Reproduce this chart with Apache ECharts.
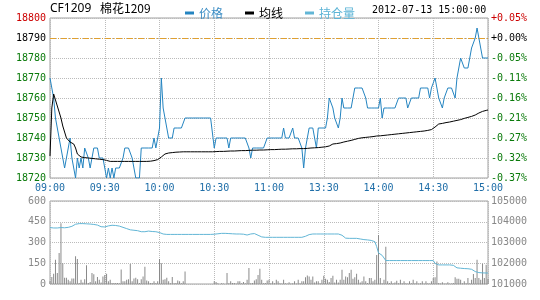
<!DOCTYPE html>
<html><head><meta charset="utf-8">
<script src="https://cdn.jsdelivr.net/npm/echarts@6/dist/echarts.min.js"></script>
<style>html,body{margin:0;padding:0;background:#fff}#c{width:540px;height:300px}</style>
</head><body><div id="c"></div>
<script>
const prevClose = 18790;
const symbolText = 'CF1209';
const nameText = '棉花1209';
const dateText = '2012-07-13 15:00:00';
const timeTicks = ['09:00','09:30','10:00','10:30','11:00','13:30','14:00','14:30','15:00'];
const pctLabels = ['-0.37%','-0.32%','-0.27%','-0.21%','-0.16%','-0.11%','-0.05%','+0.00%','+0.05%'];

const price = [
18770,18765,18760,18750,18745,18740,18735,18730,18725,18730,
18735,18740,18730,18725,18720,18730,18725,18730,18725,18735,
18735,18730,18725,18730,18735,18735,18735,18730,18730,18730,
18725,18720,18725,18720,18725,18720,18725,18725,18725,18725,
18730,18735,18735,18735,18735,18730,18725,18720,18720,18720,
18735,18735,18735,18735,18735,18735,18735,18740,18735,18740,
18745,18770,18755,18750,18745,18740,18740,18740,18745,18745,
18745,18745,18745,18745,18750,18750,18750,18750,18750,18750,
18750,18750,18750,18750,18750,18750,18750,18750,18750,18750,
18735,18740,18740,18740,18740,18740,18740,18740,18735,18740,
18740,18740,18740,18740,18740,18740,18740,18740,18740,18735,
18730,18735,18735,18735,18735,18735,18735,18735,18735,18740,
18740,18740,18740,18740,18740,18740,18740,18740,18745,18740,
18740,18740,18740,18745,18740,18740,18740,18740,18735,18725,
18735,18740,18745,18745,18745,18745,18735,18745,18745,18745,
18745,18745,18750,18760,18760,18755,18750,18750,18745,18750,
18760,18755,18755,18755,18755,18755,18755,18765,18765,18765,
18765,18765,18765,18760,18755,18755,18755,18755,18755,18755,
18755,18760,18750,18755,18755,18755,18755,18755,18755,18755,
18755,18760,18760,18760,18760,18760,18755,18755,18760,18760,
18760,18760,18760,18765,18765,18765,18765,18765,18760,18765,
18765,18770,18765,18760,18760,18755,18760,18760,18765,18765,
18765,18765,18760,18770,18775,18780,18780,18775,18775,18775,
18780,18785,18785,18790,18795,18790,18785,18780,18780,18780,
18780];

const avgPrice = [
18731,18755,18762,18759,18756,18753,18750,18746,18743,18740,
18739,18738,18738,18737,18735,18732,18731,18730.5,18730.3,18730.2,
18730.1,18730,18730,18729.8,18729.7,18729.6,18729.5,18729.4,18729.3,18729.2,
18729,18728.8,18728.5,18728.3,18728.3,18728.3,18728.3,18728.3,18728.3,18728.3,
18728.3,18728.3,18728.3,18728.3,18728.3,18728.3,18728.3,18728.3,18728.3,18728.3,
18728.3,18728.3,18728.3,18728.3,18728.3,18728.4,18728.5,18728.7,18729,18729.2,
18729.5,18730.5,18731.5,18732,18732.3,18732.5,18732.6,18732.7,18732.8,18732.9,
18733,18733,18733,18733.1,18733.1,18733.1,18733.1,18733.1,18733.1,18733.1,
18733.1,18733.1,18733.1,18733.1,18733.1,18733.1,18733.1,18733.1,18733.1,18733.1,
18733.1,18733.2,18733.2,18733.3,18733.3,18733.3,18733.4,18733.4,18733.4,18733.5,
18733.5,18733.5,18733.6,18733.6,18733.6,18733.7,18733.7,18733.7,18733.8,18733.8,
18733.8,18733.9,18733.9,18733.9,18734,18734,18734,18734,18734.1,18734.1,
18734.1,18734.2,18734.2,18734.2,18734.3,18734.3,18734.3,18734.4,18734.4,18734.4,
18734.5,18734.5,18734.5,18734.6,18734.6,18734.6,18734.7,18734.7,18734.7,18734.7,
18734.8,18734.8,18734.9,18735,18735,18735.1,18735.2,18735.2,18735.3,18735.4,
18735.5,18735.6,18735.7,18736,18736.5,18737,18737.1,18737.2,18737.3,18737.5,
18737.8,18738,18738.2,18738.4,18738.6,18738.8,18739,18739.3,18739.5,18739.8,
18740,18740.1,18740.2,18740.3,18740.4,18740.5,18740.6,18740.7,18740.8,18741,
18741,18741.1,18741.2,18741.3,18741.4,18741.5,18741.6,18741.7,18741.8,18741.9,
18742,18742.1,18742.2,18742.3,18742.4,18742.5,18742.6,18742.7,18742.8,18742.9,
18743,18743.1,18743.2,18743.3,18743.4,18743.5,18743.6,18743.8,18744,18744.2,
18744.5,18745.5,18746.5,18747,18747.2,18747.3,18747.5,18747.7,18747.9,18748,
18748.2,18748.4,18748.6,18748.8,18749,18749.2,18749.5,18749.8,18750,18750.3,
18750.5,18750.8,18751,18751.5,18752,18752.5,18753,18753.3,18753.6,18753.8,
18754];

const openInterest = [
103720,103710,103700,103680,103700,103740,103720,103700,103710,103720,
103730,103740,103780,103840,103880,103900,103910,103910,103910,103905,
103900,103895,103890,103880,103870,103860,103840,103800,103760,103710,
103750,103780,103800,103820,103830,103830,103820,103800,103790,103770,
103730,103700,103670,103640,103610,103600,103590,103580,103570,103560,
103520,103490,103520,103560,103550,103540,103530,103520,103520,103520,
103480,103440,103410,103395,103390,103390,103390,103390,103390,103390,
103390,103390,103390,103390,103390,103390,103390,103390,103390,103390,
103390,103390,103390,103390,103390,103390,103390,103390,103390,103390,
103400,103410,103420,103430,103440,103440,103440,103440,103430,103430,
103420,103420,103410,103410,103410,103400,103400,103390,103360,103380,
103410,103440,103430,103410,103350,103280,103270,103260,103250,103250,
103250,103250,103250,103250,103250,103250,103250,103250,103250,103250,
103250,103250,103250,103250,103250,103250,103250,103250,103250,103250,
103300,103360,103380,103400,103410,103410,103410,103410,103410,103410,
103410,103410,103410,103410,103410,103410,103410,103410,103410,103410,
103350,103280,103210,103200,103200,103200,103200,103200,103200,103190,
103170,103150,103140,103130,103125,103120,103100,103070,103040,102800,
102500,102450,102380,102300,102130,102130,102130,102130,102130,102130,
102130,102130,102130,102130,102130,102130,102130,102130,102130,102130,
102130,102130,102130,102130,102130,102130,102130,102130,102130,102130,
102130,101990,101920,101920,101920,101920,101920,101920,101920,101920,
101920,101900,101830,101780,101770,101760,101750,101745,101740,101735,
101730,101710,101690,101600,101560,101550,101540,101535,101530,101530,
101530];

const volume = [
20,50,75,175,80,225,440,150,45,45,
30,20,40,40,200,180,8,30,10,35,
135,8,15,80,70,20,50,30,10,55,
65,75,20,30,8,8,8,8,5,105,
20,20,30,35,145,20,40,45,35,8,
35,55,125,25,20,8,8,20,8,20,
180,150,30,35,45,20,5,50,5,8,
25,20,5,20,90,0,0,0,0,0,
0,0,0,0,0,0,0,0,0,0,
20,15,5,0,5,3,0,80,5,20,
8,8,3,20,20,5,14,5,30,115,
5,8,25,35,65,110,30,5,8,25,
30,5,19,5,31,19,5,3,31,5,
3,12,3,5,19,3,31,5,19,20,
48,62,55,31,55,10,19,19,5,31,
60,38,31,15,43,60,10,31,10,31,
103,31,55,48,79,103,38,48,74,31,
10,19,55,19,8,43,43,19,31,210,
354,43,5,31,270,19,8,19,5,10,
24,5,31,5,19,5,3,19,5,31,
5,19,3,5,19,3,19,5,3,19,
43,48,163,7,3,12,3,3,12,3,
3,7,48,38,38,31,5,19,5,43,
5,31,72,43,175,43,31,146,43,139,
36];

const minutes = price.map((_, i) => i);
const MONO = 'DejaVu Sans Mono';
const CJK = 'Noto Sans CJK SC';
const every30 = (idx) => idx % 30 === 0;
const plain = (v) => String(v);
function priceColor(v) {
  if (v > prevClose) return '#cc0000';
  if (v === prevClose) return '#000000';
  return '#0a7a0a';
}

const chart = echarts.init(document.getElementById('c'), null, {renderer: 'canvas'});
chart.setOption({
  animation: false,
  backgroundColor: '#fff',
  graphic: [
    {type: 'text', left: 50, top: 3, z: 10, style: {text: symbolText, font: '12px "Noto Sans"', fill: '#000'}},
    {type: 'text', left: 100, top: 2, z: 10, style: {text: nameText, font: '12px "Noto Sans CJK SC"', fill: '#000'}},
    {type: 'text', left: 372, top: 5, z: 10, style: {text: dateText, font: '10px "DejaVu Sans Mono"', fill: '#000'}}
  ],
  legend: {
    left: 180, top: 2, itemGap: 22, icon: 'rect', itemWidth: 9, itemHeight: 3, z: 10,
    textStyle: {fontFamily: CJK, fontSize: 12},
    data: [
      {name: '价格', textStyle: {color: '#3a8cc4'}},
      {name: '均线', textStyle: {color: '#000'}},
      {name: '持仓量', textStyle: {color: '#5cb4d6'}}
    ]
  },
  grid: [
    {left: 50, right: 52, top: 18, height: 160, show: true, borderColor: '#a0a0a0', borderWidth: 1, outerBoundsMode: 'none'},
    {left: 50, right: 52, top: 201, height: 83, show: true, borderColor: '#a0a0a0', borderWidth: 1, outerBoundsMode: 'none'}
  ],
  xAxis: [
    {type: 'category', gridIndex: 0, data: minutes, boundaryGap: false,
     axisLine: {show: false}, axisTick: {show: false},
     axisLabel: {interval: every30, margin: 5, color: '#1f6ea8', fontFamily: MONO, fontSize: 10,
       formatter: (v, idx) => timeTicks[Math.round(idx / 30)], hideOverlap: false, showMinLabel: true, showMaxLabel: true},
     splitLine: {show: true, interval: every30, lineStyle: {color: '#bbbbbb', type: 'dotted'}}},
    {type: 'category', gridIndex: 1, data: minutes, boundaryGap: false,
     axisLine: {show: false}, axisTick: {show: false}, axisLabel: {show: false},
     splitLine: {show: true, interval: every30, lineStyle: {color: '#bbbbbb', type: 'dotted'}}}
  ],
  yAxis: [
    {type: 'value', gridIndex: 0, min: 18720, max: 18800, interval: 10, position: 'left',
     axisLine: {show: false}, axisTick: {show: false},
     axisLabel: {margin: 4, fontFamily: MONO, fontSize: 10, color: (v) => priceColor(Number(v)), formatter: plain},
     splitLine: {show: true, lineStyle: {color: '#bbbbbb', type: 'dotted'}}},
    {type: 'value', gridIndex: 0, min: 18720, max: 18800, interval: 10, position: 'right',
     axisLine: {show: false}, axisTick: {show: false},
     axisLabel: {margin: 3, fontFamily: MONO, fontSize: 10, color: (v) => priceColor(Number(v)),
       formatter: (v) => pctLabels[Math.round((v - 18720) / 10)]},
     splitLine: {show: false}},
    {type: 'value', gridIndex: 1, min: 0, max: 600, interval: 150, position: 'left',
     axisLine: {show: false}, axisTick: {show: false},
     axisLabel: {margin: 4, fontFamily: MONO, fontSize: 10, color: '#888888', formatter: plain},
     splitLine: {show: true, lineStyle: {color: '#bbbbbb', type: 'dotted'}}},
    {type: 'value', gridIndex: 1, min: 101000, max: 105000, interval: 1000, position: 'right',
     axisLine: {show: false}, axisTick: {show: false},
     axisLabel: {margin: 3, fontFamily: MONO, fontSize: 10, color: '#888888', formatter: plain},
     splitLine: {show: false}}
  ],
  series: [
    {name: '价格', type: 'line', xAxisIndex: 0, yAxisIndex: 0, data: price, symbol: 'none',
     color: '#2484c0', lineStyle: {width: 1, color: '#2484c0'},
     markLine: {silent: true, symbol: 'none', label: {show: false},
       lineStyle: {color: '#e0a030', width: 1, type: [6, 2, 1, 2]},
       data: [{yAxis: prevClose}]}},
    {name: '均线', type: 'line', xAxisIndex: 0, yAxisIndex: 0, data: avgPrice, symbol: 'none',
     color: '#000', lineStyle: {width: 1, color: '#000'}},
    {name: '成交量', type: 'bar', xAxisIndex: 1, yAxisIndex: 2, data: volume, barWidth: 1,
     itemStyle: {color: '#8a8a8a'}},
    {name: '持仓量', type: 'line', xAxisIndex: 1, yAxisIndex: 3, data: openInterest, symbol: 'none',
     color: '#62b6d6', lineStyle: {width: 1, color: '#62b6d6'}}
  ]
});
</script>
</body></html>
